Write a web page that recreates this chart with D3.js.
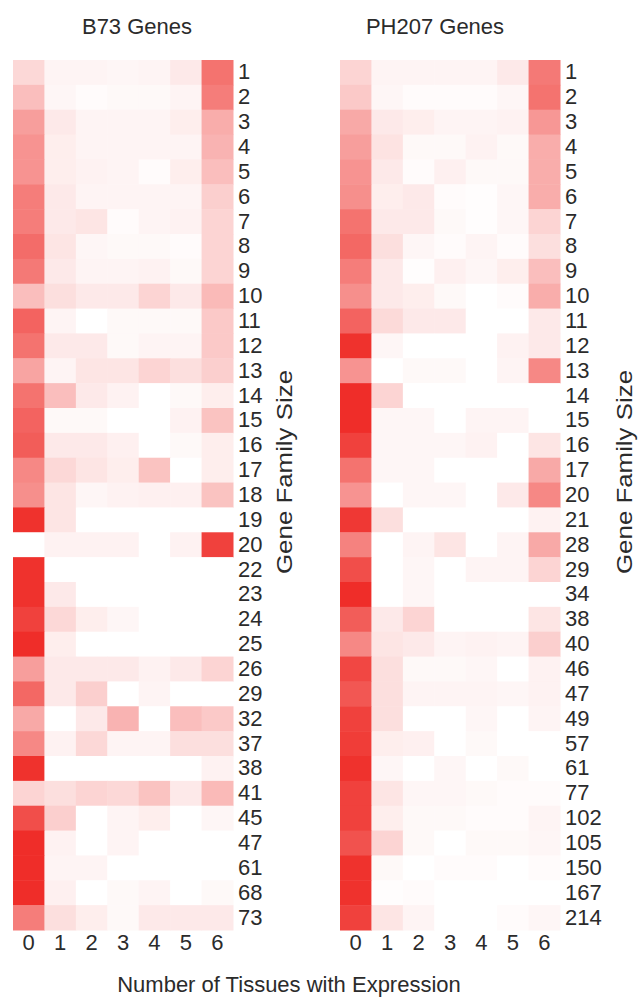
<!DOCTYPE html>
<html>
<head>
<meta charset="utf-8">
<script src="https://cdn.jsdelivr.net/npm/d3@7"></script>
<style>
  html, body { margin: 0; padding: 0; background: #ffffff; }
  svg { display: block; }
  text { font-family: "Liberation Sans", Arial, Helvetica, sans-serif; fill: #2b2b2b; }
</style>
</head>
<body>
<svg id="chart" width="642" height="997"></svg>
<script>
// ---- data ----
const tissueTicks = [0, 1, 2, 3, 4, 5, 6];

const b73Sizes = [1,2,3,4,5,6,7,8,9,10,11,12,13,14,15,16,17,18,19,20,22,23,24,25,26,29,32,37,38,41,45,47,61,68,73];
const b73Values = [
  [0.18,0.05,0.05,0.04,0.05,0.10,0.65],
  [0.30,0.04,0.02,0.03,0.03,0.05,0.60],
  [0.45,0.10,0.05,0.05,0.05,0.08,0.38],
  [0.50,0.08,0.05,0.05,0.05,0.05,0.35],
  [0.50,0.08,0.06,0.05,0.02,0.08,0.30],
  [0.60,0.10,0.05,0.05,0.05,0.05,0.22],
  [0.60,0.10,0.12,0.02,0.05,0.06,0.20],
  [0.68,0.12,0.04,0.03,0.03,0.02,0.20],
  [0.62,0.10,0.05,0.05,0.06,0.03,0.20],
  [0.30,0.15,0.10,0.10,0.20,0.10,0.32],
  [0.72,0.05,0.00,0.03,0.03,0.03,0.25],
  [0.65,0.10,0.10,0.03,0.05,0.05,0.25],
  [0.42,0.05,0.12,0.12,0.20,0.15,0.22],
  [0.65,0.30,0.10,0.06,0.00,0.03,0.08],
  [0.72,0.03,0.03,0.00,0.00,0.06,0.28],
  [0.75,0.10,0.10,0.07,0.00,0.03,0.08],
  [0.55,0.18,0.12,0.08,0.28,0.00,0.08],
  [0.52,0.12,0.04,0.06,0.07,0.07,0.28],
  [0.95,0.12,0.00,0.00,0.00,0.00,0.00],
  [0.00,0.06,0.06,0.06,0.00,0.06,0.88],
  [0.95,0.00,0.00,0.00,0.00,0.00,0.00],
  [0.95,0.10,0.00,0.00,0.00,0.00,0.00],
  [0.88,0.18,0.08,0.04,0.00,0.00,0.00],
  [0.97,0.08,0.00,0.00,0.00,0.00,0.00],
  [0.45,0.10,0.10,0.10,0.06,0.10,0.20],
  [0.70,0.10,0.22,0.00,0.05,0.00,0.00],
  [0.40,0.00,0.10,0.35,0.00,0.30,0.25],
  [0.55,0.06,0.18,0.05,0.05,0.15,0.15],
  [0.95,0.00,0.00,0.00,0.00,0.00,0.06],
  [0.20,0.15,0.20,0.18,0.28,0.10,0.32],
  [0.82,0.22,0.00,0.05,0.08,0.00,0.04],
  [0.97,0.06,0.00,0.05,0.00,0.00,0.00],
  [0.97,0.05,0.05,0.00,0.00,0.00,0.00],
  [0.97,0.07,0.00,0.03,0.05,0.00,0.03],
  [0.60,0.15,0.08,0.03,0.10,0.10,0.10]
];

const ph207Sizes = [1,2,3,4,5,6,7,8,9,10,11,12,13,14,15,16,17,20,21,28,29,34,38,40,46,47,49,57,61,77,102,105,150,167,214];
const ph207Values = [
  [0.20,0.05,0.05,0.05,0.05,0.10,0.62],
  [0.25,0.04,0.02,0.02,0.02,0.04,0.65],
  [0.40,0.10,0.08,0.05,0.05,0.06,0.48],
  [0.45,0.13,0.03,0.03,0.06,0.03,0.38],
  [0.50,0.10,0.02,0.07,0.03,0.03,0.38],
  [0.52,0.08,0.10,0.02,0.01,0.04,0.38],
  [0.65,0.10,0.10,0.03,0.01,0.04,0.20],
  [0.70,0.15,0.04,0.02,0.05,0.02,0.15],
  [0.60,0.10,0.01,0.07,0.04,0.08,0.30],
  [0.52,0.10,0.08,0.03,0.00,0.02,0.38],
  [0.72,0.17,0.10,0.10,0.00,0.00,0.10],
  [0.95,0.04,0.00,0.00,0.00,0.06,0.10],
  [0.50,0.00,0.03,0.03,0.00,0.05,0.55],
  [0.97,0.20,0.00,0.00,0.00,0.00,0.00],
  [0.97,0.04,0.04,0.00,0.05,0.05,0.00],
  [0.88,0.04,0.04,0.04,0.06,0.00,0.12],
  [0.65,0.04,0.04,0.00,0.00,0.00,0.40],
  [0.50,0.00,0.04,0.04,0.00,0.10,0.55],
  [0.92,0.15,0.00,0.00,0.00,0.00,0.06],
  [0.58,0.00,0.05,0.12,0.00,0.05,0.40],
  [0.82,0.00,0.04,0.00,0.05,0.05,0.20],
  [0.97,0.00,0.04,0.00,0.00,0.00,0.00],
  [0.75,0.10,0.20,0.00,0.00,0.00,0.12],
  [0.55,0.12,0.10,0.05,0.06,0.05,0.22],
  [0.85,0.15,0.03,0.03,0.04,0.00,0.06],
  [0.78,0.15,0.05,0.05,0.05,0.04,0.06],
  [0.88,0.15,0.00,0.00,0.04,0.00,0.05],
  [0.90,0.08,0.07,0.00,0.03,0.00,0.00],
  [0.95,0.04,0.00,0.04,0.00,0.03,0.00],
  [0.88,0.12,0.04,0.04,0.03,0.02,0.02],
  [0.88,0.08,0.03,0.03,0.02,0.02,0.05],
  [0.80,0.20,0.03,0.00,0.03,0.03,0.04],
  [0.95,0.03,0.00,0.02,0.02,0.00,0.02],
  [0.95,0.01,0.02,0.00,0.00,0.00,0.00],
  [0.88,0.12,0.05,0.00,0.00,0.02,0.04]
];

const panelTitles = ["B73 Genes", "PH207 Genes"];

// ---- drawing ----
const svg = d3.select("#chart");
const color = d3.scaleLinear().domain([0, 1]).range(["#ffffff", "#ee2722"]).interpolate(d3.interpolateRgb);

const plotTop = 60, plotBottom = 930;
const panels = [
  { title: panelTitles[0], sizes: b73Sizes, values: b73Values, x0: 13, x1: 233, titleX: 137, yLabelX: 292 },
  { title: panelTitles[1], sizes: ph207Sizes, values: ph207Values, x0: 340, x1: 560, titleX: 435, yLabelX: 632 }
];

panels.forEach(p => {
  const x = d3.scaleBand().domain(tissueTicks).range([p.x0, p.x1]);
  const y = d3.scaleBand().domain(p.sizes.map(String)).range([plotTop, plotBottom]);
  const g = svg.append("g");

  const cells = [];
  p.values.forEach((row, i) => row.forEach((v, j) => cells.push({ size: String(p.sizes[i]), t: tissueTicks[j], v })));

  g.selectAll("rect.cell").data(cells).join("rect")
    .attr("class", "cell")
    .attr("x", d => x(d.t))
    .attr("y", d => y(d.size))
    .attr("width", x.bandwidth() + 0.5)
    .attr("height", y.bandwidth() + 0.5)
    .attr("fill", d => color(d.v));

  // row labels
  const ya = g.append("g")
    .attr("transform", `translate(${p.x1},0)`)
    .call(d3.axisRight(y).tickSize(0).tickPadding(5));
  ya.select(".domain").remove();
  ya.selectAll("text").attr("font-size", 22).attr("fill", "#2b2b2b")
    .style("font-family", '"Liberation Sans", Arial, sans-serif');

  // column labels
  const xa = g.append("g")
    .attr("transform", `translate(0,${plotBottom})`)
    .call(d3.axisBottom(x).tickSize(0).tickPadding(4));
  xa.select(".domain").remove();
  xa.selectAll("text").attr("font-size", 22).attr("fill", "#2b2b2b")
    .style("font-family", '"Liberation Sans", Arial, sans-serif');

  // title
  svg.append("text")
    .attr("x", p.titleX).attr("y", 34)
    .attr("text-anchor", "middle")
    .attr("font-size", 22)
    .text(p.title);

  // y axis title
  svg.append("text")
    .attr("transform", `translate(${p.yLabelX},472) rotate(-90)`)
    .attr("text-anchor", "middle")
    .attr("font-size", 22)
    .attr("textLength", 204)
    .attr("lengthAdjust", "spacingAndGlyphs")
    .text("Gene Family Size");
});

svg.append("text")
  .attr("x", 289).attr("y", 992)
  .attr("text-anchor", "middle")
  .attr("font-size", 22)
  .text("Number of Tissues with Expression");
</script>
</body>
</html>
